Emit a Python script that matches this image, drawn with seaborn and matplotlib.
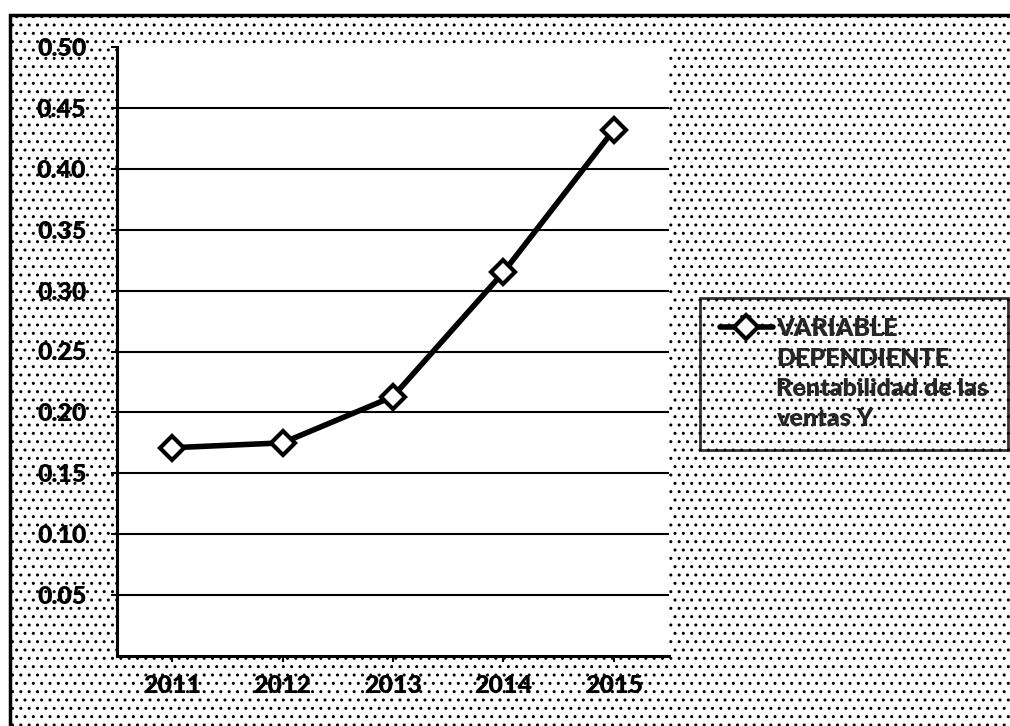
import matplotlib
matplotlib.use("Agg")
import matplotlib.pyplot as plt
import seaborn as sns
import pandas as pd
from matplotlib.patches import Rectangle
from matplotlib.legend_handler import HandlerLine2D

# data
years = ["2011", "2012", "2013", "2014", "2015"]
rentabilidad = [0.171, 0.175, 0.213, 0.315, 0.432]
y_ticks = [0.05, 0.10, 0.15, 0.20, 0.25, 0.30, 0.35, 0.40, 0.45, 0.50]
serie_label = "VARIABLE\nDEPENDIENTE\nRentabilidad de las\nventas Y"

df = pd.DataFrame({"year": years, "value": rentabilidad})

sns.set_style("white")
plt.rcParams["font.family"] = ["Lato", "DejaVu Sans"]
plt.rcParams["hatch.linewidth"] = 1.0


class TopLineHandler(HandlerLine2D):
    # put the legend sample next to the first line of a multi-line label
    def create_artists(self, legend, orig_handle, xdescent, ydescent,
                       width, height, fontsize, trans):
        arts = super().create_artists(legend, orig_handle, xdescent, ydescent,
                                      width, height, fontsize, trans)
        for a in arts:
            a.set_ydata([height - 0.78 * fontsize] * len(a.get_xdata()))
        return arts


fig = plt.figure(figsize=(10.1, 7.26), dpi=100)
fig.patch.set_facecolor("white")

# dotted chart-area background with black frame
bg = Rectangle((10 / 1010, -0.01), 1.0, (726 - 15) / 726 + 0.01,
               transform=fig.transFigure, facecolor="white", edgecolor="black",
               hatch="..", linewidth=2.5, zorder=-5)
fig.patches.append(bg)

ax = fig.add_axes([117 / 1010, (726 - 656) / 726, 552 / 1010, 609 / 726])
ax.set_zorder(2)
ax.set_facecolor("white")

sns.lineplot(data=df, x="year", y="value", ax=ax, color="black", linewidth=4,
             marker="D", markersize=12, markerfacecolor="white",
             markeredgecolor="black", markeredgewidth=3, label=serie_label,
             sort=False)

ax.set_ylim(0, 0.50)
ax.set_xlim(-0.5, 4.5)
ax.set_yticks(y_ticks)
ax.set_yticklabels([f"{v:.2f}" for v in y_ticks])
for v in y_ticks[:-1]:
    ax.axhline(v, color="black", linewidth=1.5, zorder=1)

ax.set_xlabel("")
ax.set_ylabel("")
for side in ["top", "right"]:
    ax.spines[side].set_visible(False)
ax.spines["left"].set_linewidth(2.2)
ax.spines["bottom"].set_linewidth(2.2)
ax.spines["left"].set_color("black")
ax.spines["bottom"].set_color("black")

ax.tick_params(axis="both", labelsize=18, colors="black", length=4, width=1.5,
               direction="out", left=True, bottom=True)
for lbl in ax.get_xticklabels() + ax.get_yticklabels():
    lbl.set_fontweight("heavy")
ax.tick_params(axis="x", pad=10)
ax.tick_params(axis="y", pad=18)

leg = ax.legend(loc="center left", bbox_to_anchor=(700 / 1010, (726 - 374) / 726),
                bbox_transform=fig.transFigure, frameon=True, fancybox=False,
                handlelength=2.1, handleheight=4.3, handletextpad=0.15,
                borderpad=0.8, borderaxespad=0,
                handler_map={plt.Line2D: TopLineHandler()},
                prop={"size": 18, "weight": "heavy"})
leg.get_frame().set_facecolor("none")
leg.get_frame().set_edgecolor("black")
leg.get_frame().set_linewidth(2)
for t in leg.get_texts():
    t.set_linespacing(1.45)

fig.savefig("out.png", dpi=100)
